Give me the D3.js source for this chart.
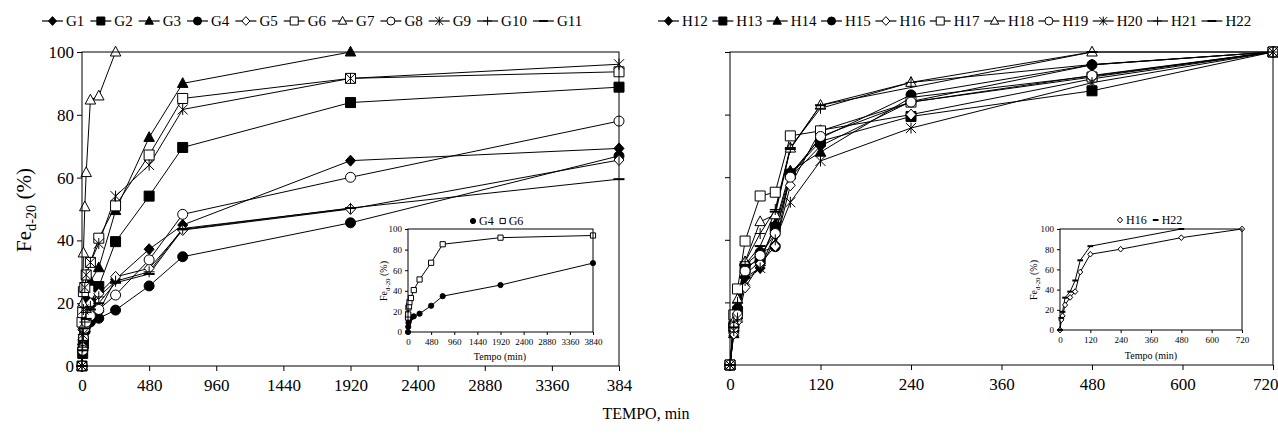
<!DOCTYPE html>
<html>
<head>
<meta charset="utf-8">
<script src="https://cdn.jsdelivr.net/npm/d3@7"></script>
<style>
  body { margin: 0; background: #fff; }
  svg { font-family: "Liberation Serif", "Times New Roman", serif; }
</style>
</head>
<body>
<svg id="chart" width="1278" height="444"></svg>
<script>
// tempo (min) for the G samples and the H samples
const timesG = [0, 5, 10, 20, 30, 60, 120, 240, 480, 720, 1920, 3840];
const timesH = [0, 5, 10, 20, 40, 60, 80, 120, 240, 480, 720];

// Fe d-20 (%), null = no point
const G1  = [0, 5, 8, 11, 13, 15, 17.3, 27.6, 37.2, 44.9, 65.4, 69.3];
const G2  = [0, 4, 7, 12, 16, 20, 25.3, 39.6, 54.1, 69.6, 83.9, 88.8];
const G3  = [0, 8, 13, 18, 22, 27, 31.3, 49.5, 72.8, 90.0, 100, null];
const G4  = [0, 5, 9, 11, 13, 14, 15.2, 17.8, 25.5, 34.8, 45.6, 66.9];
const G5  = [0, 6, 10, 14, 17, 20, 23, 28.4, 31.1, 43.3, 50.0, 65.6];
const G6  = [14, 17, 23.7, 25, 29, 33, 40.7, 51, 67.2, 85.2, 91.6, 93.7];
const G7  = [0, 20, 36, 50.7, 61.6, 84.7, 86, 100, null, null, null, null];
const G8  = [0, 5, 9, 12, 14, 16, 18, 22.6, 33.8, 48.3, 60.1, 78.0];
const G9  = [0, 10, 18, 25, 29, 33, 39, 54.1, 64.0, 81.7, 91.6, 96.1];
const G10 = [0, 6, 10, 14, 17, 19, 22, 27, 30, 43.8, 50.2, null];
const G11 = [0, 5, 8, 12, 15, 18, 20, 26.5, 29.3, 43.5, 50.3, 59.5];

const H12 = [0, 11, 15, 28, 31, 42, 60, 70, 84.2, 95.9, 100];
const H13 = [0, 12, 17, 31, 34, 44, 61, 71.5, 79.4, 87.6, 100];
const H14 = [0, 10, 16, 29, 33, 45, 62, 68, 85.5, 92.3, 100];
const H15 = [0, 13, 18, 32, 36, 37.8, 61, 72.5, 86.3, 95.9, 100];
const H16 = [0, 10, 14, 24.8, 32.3, 38, 57.4, 75, 80, 91.4, 100];
const H17 = [0, 16, 24.3, 39.6, 54, 55.2, 73.2, 74.8, 84, 92, 100];
const H18 = [0, 14, 21, 33, 45.8, 48, 69.3, 83, 90.3, 100, 100];
const H19 = [0, 12, 16, 30, 35, 42, 60, 73, 84, 92.5, 100];
const H20 = [0, 11, 15, 27, 31, 40, 52, 65.2, 75.7, 90.2, 100];
const H21 = [0, 14, 20, 33, 42, 49.7, 69.5, 82, 90.3, 96, 100];
const H22 = [0, 12, 18, 32, 38, 49, 69, 83, null, 100, null];

const ticksY = [0, 20, 40, 60, 80, 100];
const ticksG = [0, 480, 960, 1440, 1920, 2400, 2880, 3360, 3840];
const ticksH = [0, 120, 240, 360, 480, 600, 720];
const labelsG = ["0", "480", "960", "1440", "1920", "2400", "2880", "3360", "384"];

// marker look per series (kept apart from the values)
const seriesG = [
  { name: "G1", values: G1, shape: "diamond", filled: true },
  { name: "G2", values: G2, shape: "square", filled: true },
  { name: "G3", values: G3, shape: "triangle", filled: true },
  { name: "G4", values: G4, shape: "circle", filled: true },
  { name: "G5", values: G5, shape: "diamond", filled: false },
  { name: "G6", values: G6, shape: "square", filled: false },
  { name: "G7", values: G7, shape: "triangle", filled: false },
  { name: "G8", values: G8, shape: "circle", filled: false },
  { name: "G9", values: G9, shape: "star", filled: false },
  { name: "G10", values: G10, shape: "plus", filled: false },
  { name: "G11", values: G11, shape: "dash", filled: true }
];
const seriesH = [
  { name: "H12", values: H12, shape: "diamond", filled: true },
  { name: "H13", values: H13, shape: "square", filled: true },
  { name: "H14", values: H14, shape: "triangle", filled: true },
  { name: "H15", values: H15, shape: "circle", filled: true },
  { name: "H16", values: H16, shape: "diamond", filled: false },
  { name: "H17", values: H17, shape: "square", filled: false },
  { name: "H18", values: H18, shape: "triangle", filled: false },
  { name: "H19", values: H19, shape: "circle", filled: false },
  { name: "H20", values: H20, shape: "star", filled: false },
  { name: "H21", values: H21, shape: "plus", filled: false },
  { name: "H22", values: H22, shape: "dash", filled: true }
];

const svg = d3.select("#chart");

function markerPath(shape, r) {
  switch (shape) {
    case "diamond": return `M0,${-r * 1.1}L${r},0L0,${r * 1.1}L${-r},0Z`;
    case "square": return `M${-r},${-r}h${2 * r}v${2 * r}h${-2 * r}Z`;
    case "triangle": return `M0,${-r * 1.15}L${r * 1.05},${r * 0.8}L${-r * 1.05},${r * 0.8}Z`;
    case "circle": return `M${r},0A${r},${r} 0 1,1 ${-r},0A${r},${r} 0 1,1 ${r},0Z`;
    case "star": return `M${-r},${-r}L${r},${r}M${-r},${r}L${r},${-r}M0,${-r * 1.1}V${r * 1.1}`;
    case "plus": return `M${-r * 1.1},0H${r * 1.1}M0,${-r * 1.1}V${r * 1.1}`;
    case "dash": return `M${-r * 1.1},0H${r * 1.1}`;
  }
}

function addMarker(g, s, cx, cy, r) {
  const open = ["star", "plus", "dash"].includes(s.shape);
  g.append("path")
    .attr("transform", `translate(${cx},${cy})`)
    .attr("d", markerPath(s.shape, r))
    .attr("fill", open ? "none" : (s.filled ? "#000" : "#fff"))
    .attr("stroke", "#000")
    .attr("stroke-width", s.shape === "dash" ? 2 : 1);
}

function points(times, values) {
  return times.map((t, i) => [t, values[i]]).filter(d => d[1] != null);
}

function drawSeries(g, x, y, times, list, r) {
  const line = d3.line().x(d => x(d[0])).y(d => y(d[1]));
  list.forEach(s => {
    g.append("path")
      .attr("d", line(points(times, s.values)))
      .attr("fill", "none")
      .attr("stroke", "#000")
      .attr("stroke-width", 1);
  });
  list.forEach(s => {
    points(times, s.values).forEach(d => addMarker(g, s, x(d[0]), y(d[1]), r));
  });
}

function styleAxis(g, size) {
  g.select(".domain").remove();
  g.selectAll("line").attr("stroke", "#000");
  g.selectAll("text").attr("fill", "#000").style("font-size", size + "px")
    .style("font-family", '"Liberation Serif", "Times New Roman", serif');
}

function panel(opt) {
  const x = d3.scaleLinear().domain(opt.xDomain).range(opt.xRange);
  const y = d3.scaleLinear().domain([0, 100]).range(opt.yRange);
  const g = svg.append("g");

  if (opt.bg) {
    g.append("rect")
      .attr("x", opt.xRange[0]).attr("y", opt.yRange[1])
      .attr("width", opt.xRange[1] - opt.xRange[0])
      .attr("height", opt.yRange[0] - opt.yRange[1])
      .attr("fill", "#fff");
  }

  const xa = g.append("g")
    .attr("transform", `translate(0,${opt.yRange[0]})`)
    .call(d3.axisBottom(x).tickValues(opt.xTicks)
      .tickFormat((d, i) => opt.xLabels[i])
      .tickSize(opt.tick).tickPadding(opt.xPad))
    .call(a => styleAxis(a, opt.font));
  // the last label would run past the window edge
  if (opt.lastEnd) {
    xa.selectAll(".tick:last-of-type text").attr("text-anchor", "end").attr("x", 1278 - opt.xRange[1]);
  }

  g.append("g")
    .attr("transform", `translate(${opt.xRange[0]},0)`)
    .call(d3.axisLeft(y).tickValues(ticksY)
      .tickFormat(d => opt.yLabels ? d : "")
      .tickSize(opt.tick).tickPadding(opt.yPad))
    .call(a => styleAxis(a, opt.font));

  drawSeries(g.append("g"), x, y, opt.times, opt.series, opt.r);

  g.append("rect")
    .attr("x", opt.xRange[0]).attr("y", opt.yRange[1])
    .attr("width", opt.xRange[1] - opt.xRange[0])
    .attr("height", opt.yRange[0] - opt.yRange[1])
    .attr("fill", "none").attr("stroke", "#000").attr("stroke-width", 1);
  return g;
}

function feLabel(cx, cy, size) {
  const t = svg.append("text")
    .attr("transform", `translate(${cx},${cy}) rotate(-90)`)
    .attr("text-anchor", "middle")
    .style("font-size", size + "px");
  t.append("tspan").text("Fe");
  t.append("tspan").attr("dy", size * 0.25).style("font-size", (size * 0.68) + "px").text("d-20");
  t.append("tspan").attr("dy", -size * 0.25).text(" (%)");
}

function legend(list, x0, cy, gap) {
  let x = x0;
  list.forEach(s => {
    const g = svg.append("g");
    g.append("line").attr("x1", x).attr("x2", x + 21).attr("y1", cy).attr("y2", cy)
      .attr("stroke", "#000").attr("stroke-width", 1.2);
    addMarker(g, s, x + 10.5, cy, 4);
    const t = g.append("text").attr("x", x + 24).attr("y", cy + 5)
      .style("font-size", "15px").text(s.name);
    x += 24 + t.node().getComputedTextLength() + gap;
  });
}

// main panels
panel({
  xDomain: [0, 3840], xRange: [82, 619], yRange: [366, 52],
  xTicks: ticksG, xLabels: labelsG, yLabels: true,
  times: timesG, series: seriesG, r: 5, tick: 5, xPad: 8, yPad: 3, font: 17
});
panel({
  xDomain: [0, 720], xRange: [730, 1273], yRange: [365, 52],
  xTicks: ticksH, xLabels: ticksH.map(String), yLabels: false, lastEnd: true,
  times: timesH, series: seriesH, r: 5, tick: 5, xPad: 8, yPad: 3, font: 17
});

// insets
const insetG = seriesG.filter(s => s.name === "G4" || s.name === "G6");
const insetH = seriesH.filter(s => s.name === "H16" || s.name === "H22");
panel({
  xDomain: [0, 3840], xRange: [408, 593], yRange: [332, 229], bg: true,
  xTicks: ticksG, xLabels: ticksG.map(String), yLabels: true,
  times: timesG, series: insetG, r: 2.6, tick: 3, xPad: 4, yPad: 3, font: 9
});
panel({
  xDomain: [0, 720], xRange: [1060, 1242], yRange: [330, 229], bg: true,
  xTicks: ticksH, xLabels: ticksH.map(String), yLabels: true,
  times: timesH, series: insetH, r: 2.6, tick: 3, xPad: 4, yPad: 3, font: 9
});

// inset legends
function insetLegend(items, x0, cy) {
  let x = x0;
  items.forEach(s => {
    const g = svg.append("g");
    addMarker(g, s, x + 3, cy, 2.6);
    const t = g.append("text").attr("x", x + 9).attr("y", cy + 4)
      .style("font-size", "12px").text(s.name);
    x += 9 + t.node().getComputedTextLength() + 6;
  });
}
insetLegend(insetG, 470, 221);
insetLegend(insetH, 1117, 220);

// axis titles
feLabel(31, 210, 21);
feLabel(387, 281, 10);
feLabel(1037, 280, 10);
svg.append("text").attr("x", 500).attr("y", 360).attr("text-anchor", "middle")
  .style("font-size", "10px").text("Tempo (min)");
svg.append("text").attr("x", 1151).attr("y", 359).attr("text-anchor", "middle")
  .style("font-size", "10px").text("Tempo (min)");
svg.append("text").attr("x", 646).attr("y", 419).attr("text-anchor", "middle")
  .style("font-size", "16px").text("TEMPO, min");

legend(seriesG, 42, 21, 6);
legend(seriesH, 658, 21, 4.5);
</script>
</body>
</html>
